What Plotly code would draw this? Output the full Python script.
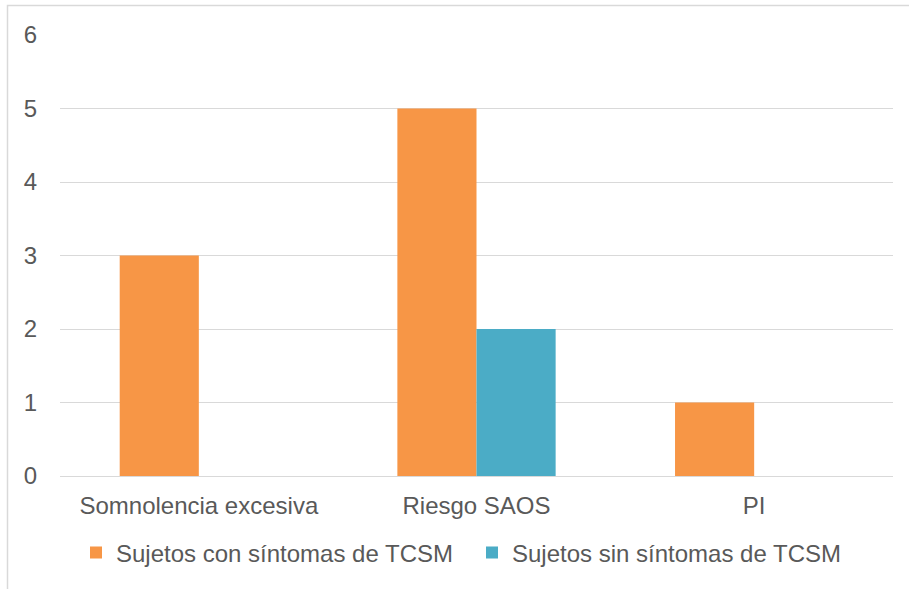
import plotly.graph_objects as go

categories = ["Somnolencia excesiva", "Riesgo SAOS", "PI"]
con_sintomas = [3, 5, 1]
sin_sintomas = [0, 2, 0]
series_names = ["Sujetos con síntomas de TCSM", "Sujetos sin síntomas de TCSM"]
y_ticks = [0, 1, 2, 3, 4, 5, 6]

W, H = 909, 589
ML, MR, MT, MB = 60, 16, 35, 113
pw = W - ML - MR
ph = H - MT - MB

def px_x(x):
    return (x - ML) / pw

def px_y(y):
    return (H - MB - y) / ph

font_color = "#595959"
FONT = "Liberation Sans, Arial, sans-serif"
FS = 24

fig = go.Figure()
fig.add_trace(go.Bar(x=categories, y=con_sintomas, name=series_names[0],
                     marker=dict(color="#F79646", line=dict(width=0))))
fig.add_trace(go.Bar(x=categories, y=sin_sintomas, name=series_names[1],
                     marker=dict(color="#4BACC6", line=dict(width=0))))

fig.update_layout(
    width=W, height=H,
    margin=dict(l=ML, r=MR, t=MT, b=MB, pad=0),
    paper_bgcolor="white", plot_bgcolor="white",
    barmode="group", bargap=0.43, bargroupgap=0,
    font=dict(family=FONT, size=FS, color=font_color),
    showlegend=True,
    legend=dict(orientation="h", x=px_x(76), xanchor="left", y=px_y(553), yanchor="middle",
                font=dict(size=FS, color=font_color), entrywidth=351,
                itemclick=False, bgcolor="rgba(0,0,0,0)"),
    xaxis=dict(showgrid=False, showline=False, ticks="", ticklabelstandoff=13,
               tickfont=dict(size=FS, color=font_color), zeroline=False),
    yaxis=dict(range=[0, 6], tickvals=y_ticks, showgrid=True, gridcolor="#d9d9d9", gridwidth=1.3,
               zeroline=True, zerolinecolor="#d9d9d9", zerolinewidth=1.3, showline=False,
               ticks="", ticklabelstandoff=22, tickfont=dict(size=FS, color=font_color)),
    shapes=[dict(type="rect", xref="paper", yref="paper",
                 x0=px_x(7.5), x1=px_x(930), y0=px_y(620), y1=px_y(5.5),
                 line=dict(color="#d9d9d9", width=1.5), fillcolor="rgba(0,0,0,0)", layer="below")],
)

fig.write_html("out.html")
